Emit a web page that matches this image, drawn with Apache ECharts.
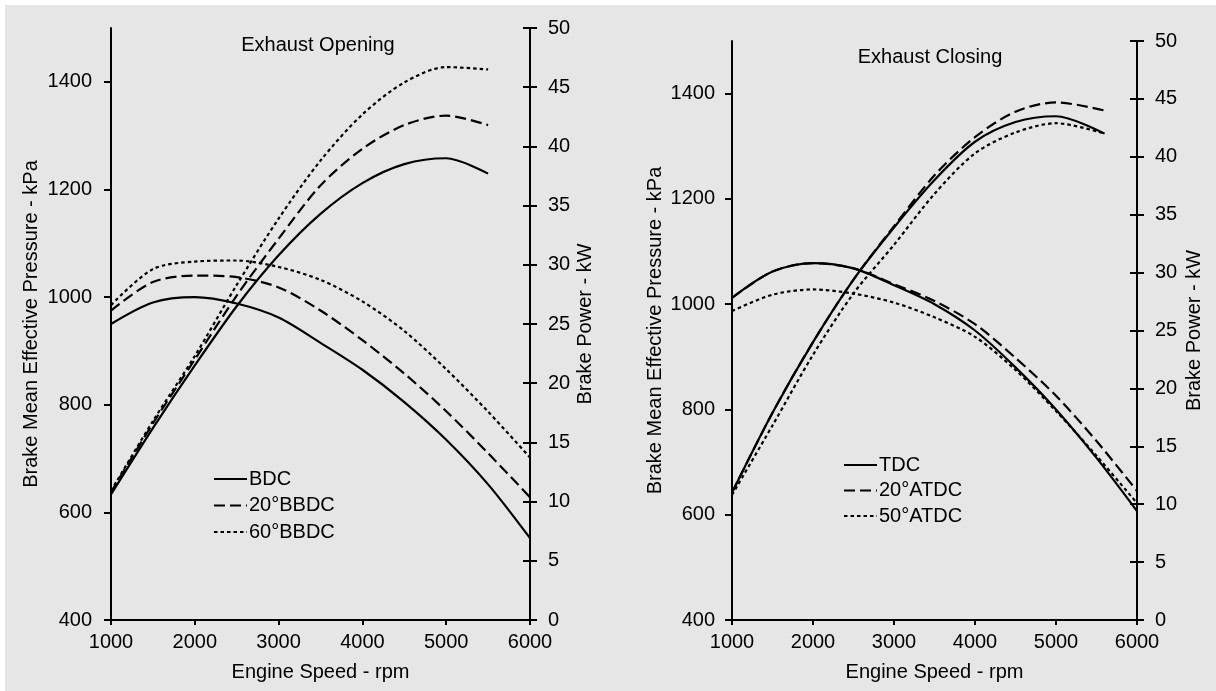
<!DOCTYPE html>
<html>
<head>
<meta charset="utf-8">
<title>Exhaust valve timing - BMEP and brake power</title>
<script src="https://cdn.jsdelivr.net/npm/echarts@6.0.0/dist/echarts.min.js"></script>
<style>
  html, body { margin: 0; padding: 0; background: #fff; }
  #chart {
    width: 1216px; height: 691px;
    background: linear-gradient(#e6e6e6, #e6e6e6) 5px 5px / 100% 100% no-repeat, #fff;
  }
</style>
</head>
<body>
<div id="chart"></div>
<script>
// engine speed, rpm
const rpm = [1000, 1500, 2000, 2500, 3000, 3500, 4000, 4500, 5000, 5500, 6000];
const openPowerRpm = [1000, 1500, 2000, 2500, 3000, 3500, 4000, 4500, 5000, 5500];
const closePowerRpm = [1000, 1500, 2000, 2500, 3000, 3500, 4000, 4500, 5000, 5600];

// exhaust opening: BMEP (kPa)
const bdcBmep     = [950, 990, 1000, 988, 962, 915, 865, 805, 735, 652, 552];
const bbdc20Bmep  = [975, 1028, 1040, 1037, 1018, 975, 920, 858, 788, 710, 628];
const bbdc60Bmep  = [985, 1052, 1066, 1068, 1056, 1032, 992, 937, 866, 787, 702];
// exhaust opening: brake power (kW)
const bdcPower    = [10.6, 16.2, 21.5, 26.5, 30.8, 34.3, 36.9, 38.5, 39.0, 37.7];
const bbdc20Power = [10.8, 16.6, 22.0, 27.4, 32.2, 36.7, 39.8, 41.8, 42.6, 41.8];
const bbdc60Power = [10.9, 16.8, 22.3, 28.3, 33.9, 38.8, 42.7, 45.4, 46.7, 46.5];

// exhaust closing: BMEP (kPa)
const tdcBmep     = [1012, 1062, 1078, 1068, 1036, 1000, 950, 880, 800, 708, 607];
const atdc20Bmep  = [1012, 1062, 1078, 1068, 1038, 1006, 962, 898, 826, 740, 645];
const atdc50Bmep  = [987, 1018, 1028, 1020, 1003, 975, 938, 875, 797, 712, 622];
// exhaust closing: brake power (kW)
const tdcPower    = [11.0, 17.9, 24.0, 29.4, 33.9, 38.0, 41.3, 43.0, 43.5, 42.0];
const atdc20Power = [11.0, 17.9, 24.0, 29.4, 34.0, 38.4, 41.7, 43.9, 44.7, 44.0];
const atdc50Power = [10.8, 16.8, 22.9, 28.2, 32.4, 36.8, 40.3, 42.1, 42.9, 42.0];

const openNames  = ['BDC', '20°BBDC', '60°BBDC'];
const closeNames = ['TDC', '20°ATDC', '50°ATDC'];
const bmepTicks  = [400, 600, 800, 1000, 1200, 1400];

const ink = '#000';
const font = "'Liberation Sans', Arial, sans-serif";
const dashes = ['solid', [11, 5], [3.5, 3]];

const panels = [
  { grid: { left: 111, right: 686, top: 28, bottom: 71 },
    title: 'Exhaust Opening', titleX: 318, titleY: 45,
    legend: { left: 213, top: 469, itemGap: 6.5 },
    names: openNames, bmep: [bdcBmep, bbdc20Bmep, bbdc60Bmep],
    power: [bdcPower, bbdc20Power, bbdc60Power], powerRpm: openPowerRpm,
    leftMargin: 19, leftGap: 70, rightGap: 45 },
  { grid: { left: 732, right: 79, top: 41, bottom: 71 },
    title: 'Exhaust Closing', titleX: 930, titleY: 57,
    legend: { left: 843, top: 455, itemGap: 5.5 },
    names: closeNames, bmep: [tdcBmep, atdc20Bmep, atdc50Bmep],
    power: [tdcPower, atdc20Power, atdc50Power], powerRpm: closePowerRpm,
    leftMargin: 17, leftGap: 67, rightGap: 47 }
];

const txt = (extra) => Object.assign({ color: ink, fontSize: 20, fontFamily: font }, extra || {});
const plain = (v) => String(v);
const axisLine = { show: true, lineStyle: { color: ink, width: 2 } };

const option = {
  animation: false,
  grid: [], xAxis: [], yAxis: [], title: [], legend: [], series: []
};

panels.forEach((p, k) => {
  option.grid.push(p.grid);
  option.title.push({
    text: p.title, left: p.titleX, top: p.titleY, padding: 0,
    textAlign: 'center', textVerticalAlign: 'middle',
    textStyle: txt({ fontWeight: 'normal' })
  });
  option.legend.push({
    data: p.names, orient: 'vertical', left: p.legend.left, top: p.legend.top,
    itemGap: p.legend.itemGap, itemWidth: 33, itemHeight: 12, padding: 0,
    selectedMode: false, itemStyle: { opacity: 0 },
    textStyle: txt({ padding: [0, 0, 0, -3] })
  });
  option.xAxis.push({
    type: 'value', gridIndex: k, min: 1000, max: 6000, interval: 1000,
    name: 'Engine Speed - rpm', nameLocation: 'middle', nameGap: 42, nameTextStyle: txt(),
    axisLine: axisLine, axisTick: { length: 5, lineStyle: { color: ink, width: 2 } },
    axisLabel: txt({ margin: 12, formatter: plain }), splitLine: { show: false }
  });
  // left: BMEP
  option.yAxis.push({
    type: 'value', gridIndex: k, position: 'left', min: 400, max: 1500,
    name: 'Brake Mean Effective Pressure - kPa', nameLocation: 'middle',
    nameGap: p.leftGap, nameTextStyle: txt(),
    axisLine: axisLine,
    axisTick: { customValues: bmepTicks, length: 7, lineStyle: { color: ink, width: 2 } },
    axisLabel: txt({ customValues: bmepTicks, margin: p.leftMargin, formatter: plain }),
    splitLine: { show: false }
  });
  // right: brake power
  option.yAxis.push({
    type: 'value', gridIndex: k, position: 'right', min: 0, max: 50, interval: 5,
    name: 'Brake Power - kW', nameLocation: 'middle', nameGap: p.rightGap, nameTextStyle: txt(),
    axisLine: axisLine,
    axisTick: { length: 7, lineStyle: { color: ink, width: 2 } },
    axisLabel: txt({ margin: 18, formatter: plain }), splitLine: { show: false }
  });
  // same axis again, ticks on the inner side so they cross the line
  option.yAxis.push({
    type: 'value', gridIndex: k, position: 'right', min: 0, max: 50, interval: 5,
    axisLine: { show: false },
    axisTick: { inside: true, length: 7, lineStyle: { color: ink, width: 2 } },
    axisLabel: { show: false }, splitLine: { show: false }
  });

  p.names.forEach((name, i) => {
    const line = { color: ink, width: 2.2, type: dashes[i] };
    option.series.push({
      name: name, type: 'line', xAxisIndex: k, yAxisIndex: k * 3,
      data: rpm.map((r, j) => [r, p.bmep[i][j]]),
      smooth: 0.3, symbol: 'none', lineStyle: line, itemStyle: { color: ink }
    });
    option.series.push({
      name: name, type: 'line', xAxisIndex: k, yAxisIndex: k * 3 + 1,
      data: p.powerRpm.map((r, j) => [r, p.power[i][j]]),
      smooth: 0.3, symbol: 'none', lineStyle: line, itemStyle: { color: ink }
    });
  });
});

const chart = echarts.init(document.getElementById('chart'));
chart.setOption(option);
</script>
</body>
</html>
